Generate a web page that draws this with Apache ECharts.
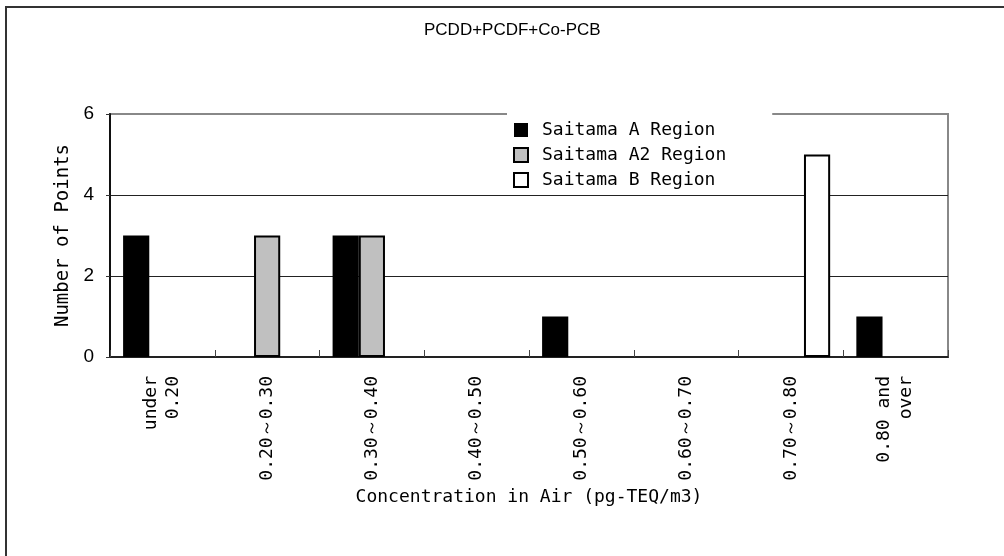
<!DOCTYPE html>
<html>
<head>
<meta charset="utf-8">
<script src="https://cdn.jsdelivr.net/npm/echarts@6/dist/echarts.min.js"></script>
<style>
html,body{margin:0;padding:0;background:#fff;}
#chart{width:1004px;height:556px;}
</style>
</head>
<body>
<div id="chart"></div>
<script>
const categories = ["under\n0.20", "0.20～0.30", "0.30～0.40", "0.40～0.50", "0.50～0.60", "0.60～0.70", "0.70～0.80", "0.80 and\nover"];
const seriesNames = ["Saitama A Region", "Saitama A2 Region", "Saitama B Region"];
const saitamaA = [3, 0, 3, 0, 1, 0, 0, 1];
const saitamaA2 = [0, 3, 3, 0, 0, 0, 0, 0];
const saitamaB = [0, 0, 0, 0, 0, 0, 5, 0];
const yTicks = { min: 0, max: 6, interval: 2 };

const mono = '"DejaVu Sans Mono", "Liberation Mono", monospace';
const sans = '"Liberation Sans", Arial, sans-serif';

const styles = [
  { color: '#000000', borderColor: '#000000', borderWidth: 0 },
  { color: '#c0c0c0', borderColor: '#000000', borderWidth: 2 },
  { color: '#ffffff', borderColor: '#000000', borderWidth: 2 }
];
const values = [saitamaA, saitamaA2, saitamaB];

const chart = echarts.init(document.getElementById('chart'), null, { renderer: 'canvas' });
chart.setOption({
  animation: false,
  backgroundColor: '#ffffff',
  title: {
    text: 'PCDD+PCDF+Co-PCB',
    left: 424,
    top: 22,
    padding: 0,
    textStyle: { fontFamily: sans, fontSize: 17, fontWeight: 'normal', color: '#000' }
  },
  graphic: [{
    type: 'rect',
    shape: { x: 6, y: 7, width: 1100, height: 700 },
    style: { fill: 'none', stroke: '#333', lineWidth: 2 },
    silent: true
  }],
  legend: {
    orient: 'vertical',
    left: 507,
    top: 112,
    padding: [8, 46, 5, 6],
    backgroundColor: '#ffffff',
    itemWidth: 14,
    itemHeight: 14,
    itemGap: 5,
    z: 10,
    textStyle: { fontFamily: mono, fontSize: 18, color: '#000', lineHeight: 20, padding: [0, 0, 0, 9] },
    data: seriesNames.map((n, i) => ({ name: n, icon: 'rect', itemStyle: styles[i] }))
  },
  grid: {
    left: 110, right: 56, top: 114, bottom: 199,
    show: true, borderColor: '#888', borderWidth: 2, backgroundColor: 'transparent'
  },
  xAxis: {
    type: 'category',
    data: categories,
    name: 'Concentration in Air (pg-TEQ/m3)',
    nameLocation: 'middle',
    nameGap: 131,
    nameTextStyle: { fontFamily: mono, fontSize: 18, color: '#000' },
    axisLine: { lineStyle: { color: '#222', width: 2 } },
    axisTick: { show: true, inside: true, length: 7, lineStyle: { color: '#444', width: 1 } },
    axisLabel: { rotate: 90, margin: 19, fontFamily: mono, fontSize: 18, color: '#000', interval: 0, lineHeight: 22 },
    splitLine: { show: false }
  },
  yAxis: {
    type: 'value',
    min: yTicks.min, max: yTicks.max, interval: yTicks.interval,
    name: 'Number of Points',
    nameLocation: 'middle',
    nameGap: 35,
    nameTextStyle: { fontFamily: mono, fontSize: 19, color: '#000' },
    axisLine: { show: true, lineStyle: { color: '#111', width: 2 } },
    axisTick: { show: true, inside: false, length: 4, lineStyle: { color: '#333', width: 1 } },
    axisLabel: { margin: 16, fontFamily: sans, fontSize: 19, color: '#000' },
    splitLine: { show: true, showMaxLine: false, lineStyle: { color: '#222', width: 1 } }
  },
  series: values.map((v, i) => ({
    name: seriesNames[i],
    type: 'bar',
    data: v.map(x => (x === 0 ? '-' : x)),
    barGap: '0%',
    barCategoryGap: '25%',
    itemStyle: styles[i]
  }))
});
</script>
</body>
</html>
